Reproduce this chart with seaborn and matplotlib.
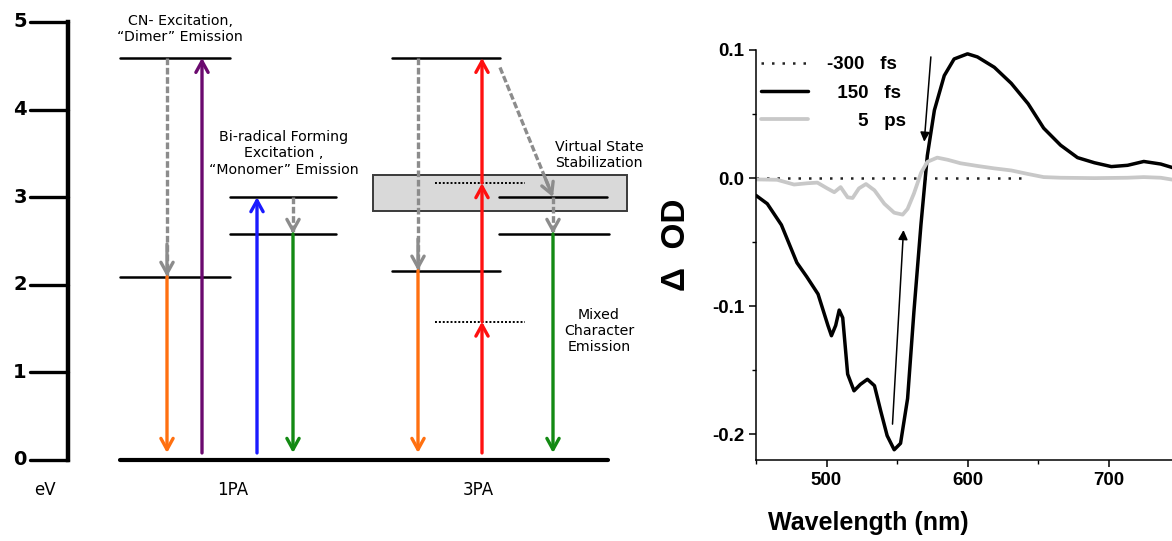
import matplotlib
matplotlib.use("Agg")
import matplotlib.pyplot as plt
import seaborn as sns

# -------------------------------
# Données : diagramme d'énergie (eV)
# -------------------------------
eV_ticks = [0, 1, 2, 3, 4, 5]
lvl_cn_high = 4.59      # CN- état excité (1PA et 3PA)
lvl_dimer = 2.09        # émission "dimère" 1PA
lvl_dimer_3pa = 2.16    # émission 3PA (orange)
lvl_mono_high = 3.0     # bi-radical
lvl_mono_low = 2.58     # émission "monomère"
virt_1 = 1.58           # états virtuels 3PA
virt_2 = 3.16
box_top = 3.25          # zone de stabilisation
box_bottom = 2.84
arrow_floor = 0.08

# -------------------------------
# Données : spectres d'absorption transitoire
# -------------------------------
wl_150fs = [450, 458, 468, 479, 486, 494, 501, 503.5, 506.5, 509, 511.5, 515, 519.5,
            524, 529, 534, 538.5, 543, 548, 552.5, 557.5, 562, 567, 571.5, 576.5,
            583.5, 590.5, 600, 607, 619, 631, 643, 654, 666, 678, 690, 702, 713.5,
            725, 737, 746]
od_150fs = [-0.0135, -0.020, -0.0365, -0.066, -0.077, -0.0905, -0.115, -0.123, -0.115,
            -0.103, -0.109, -0.153, -0.166, -0.161, -0.157, -0.162, -0.182, -0.201,
            -0.212, -0.207, -0.172, -0.104, -0.036, 0.0176, 0.053, 0.080, 0.093, 0.097,
            0.0946, 0.0865, 0.074, 0.058, 0.039, 0.0257, 0.016, 0.012, 0.009, 0.010,
            0.013, 0.011, 0.008]

wl_5ps = [450, 465, 477, 486.5, 493.5, 500.5, 505.5, 510, 515, 518.5, 523, 528, 534,
          541, 548, 554, 557.5, 562, 567, 571.5, 578.5, 586, 595, 607, 619, 631, 643,
          654, 666, 690, 713.5, 725, 737, 746]
od_5ps = [-0.001, -0.0013, -0.005, -0.004, -0.0035, -0.008, -0.011, -0.007, -0.015,
          -0.0155, -0.008, -0.0046, -0.0095, -0.020, -0.027, -0.0285, -0.024, -0.012,
          0.004, 0.0127, 0.016, 0.0143, 0.0116, 0.0095, 0.0076, 0.006, 0.0032, 0.0008,
          0.0003, 0.0, 0.0003, 0.0008, 0.0003, -0.0013]

wl_m300fs = [450, 500, 550, 600, 640]
od_m300fs = [0, 0, 0, 0, 0]

legend_labels = ["-300   fs", "\u2007150   fs", "\u2007\u2007\u20075   ps"]

# -------------------------------
# Style
# -------------------------------
sns.set_style("ticks")
plt.rcParams['font.family'] = ['Liberation Sans', 'DejaVu Sans']
plt.rcParams['axes.unicode_minus'] = False
plt.rcParams['text.color'] = 'black'
plt.rcParams['axes.labelcolor'] = 'black'
plt.rcParams['xtick.color'] = 'black'
plt.rcParams['ytick.color'] = 'black'
plt.rcParams['axes.edgecolor'] = 'black'

fig = plt.figure(figsize=(11.72, 5.41), dpi=100)

# -------------------------------
# Panneau gauche : diagramme d'énergie
# -------------------------------
axL = fig.add_axes([0, 0, 660 / 1172, 1])
axL.set_xlim(0, 660)
axL.set_ylim(-0.925, 5.25)
axL.axis('off')

DJ = 'DejaVu Sans'
GREY = '#8c8c8c'

axL.plot([68, 68], [eV_ticks[0], eV_ticks[-1]], color='k', lw=3.2, solid_capstyle='projecting')
for v in eV_ticks:
    axL.plot([30, 68], [v, v], color='k', lw=2.4)
    axL.text(20, v, str(v), ha='center', va='center', fontsize=14, fontweight='bold', family=DJ)
axL.text(45, -0.34, "eV", ha='center', va='center', fontsize=12, family=DJ)
axL.text(233, -0.34, "1PA", ha='center', va='center', fontsize=12, family=DJ)
axL.text(478, -0.34, "3PA", ha='center', va='center', fontsize=12, family=DJ)

# box de stabilisation
axL.add_patch(plt.Rectangle((373, box_bottom), 627 - 373, box_top - box_bottom,
                            facecolor='#d9d9d9', edgecolor='#3a3a3a', lw=1.4, zorder=1))

# niveaux
axL.plot([120, 608], [0, 0], color='k', lw=3)
level_segments = [
    (120, 230, lvl_cn_high), (120, 230, lvl_dimer),
    (230, 336, lvl_mono_high), (230, 336, lvl_mono_low),
    (392, 500, lvl_cn_high), (392, 500, lvl_dimer_3pa),
    (499, 607, lvl_mono_high), (499, 609, lvl_mono_low),
]
for x0, x1, y in level_segments:
    axL.plot([x0, x1], [y, y], color='k', lw=1.8, zorder=2)
for y in [virt_2, virt_1]:
    axL.plot([435, 525], [y, y], color='k', lw=1.4, ls=(0, (1, 1)), zorder=2)

HEAD = '->,head_length=0.4,head_width=0.22'


def arrow(x0, y0, x1, y1, color):
    axL.annotate('', xy=(x1, y1), xytext=(x0, y0), zorder=3,
                 arrowprops=dict(arrowstyle=HEAD, color=color, lw=2.4, mutation_scale=20,
                                 shrinkA=0, shrinkB=0))


def dashed_arrow(x0, y0, x1, y1):
    axL.plot([x0, x1], [y0, y1], color=GREY, lw=2.4, ls=(0, (2.0, 0.8)), zorder=3)
    xs = x0 + 0.85 * (x1 - x0)
    ys = y0 + 0.85 * (y1 - y0)
    axL.annotate('', xy=(x1, y1), xytext=(xs, ys), zorder=3,
                 arrowprops=dict(arrowstyle=HEAD, color=GREY, lw=2.4, mutation_scale=20,
                                 shrinkA=0, shrinkB=0))


# 1PA
dashed_arrow(167, lvl_cn_high, 167, lvl_dimer)
arrow(167, lvl_dimer, 167, arrow_floor, '#ff7010')
arrow(202, arrow_floor, 202, lvl_cn_high, '#6b0a6f')
arrow(257, arrow_floor, 257, lvl_mono_high, '#1a1aff')
dashed_arrow(293, lvl_mono_high, 293, lvl_mono_low)
arrow(293, lvl_mono_low, 293, arrow_floor, '#138a13')

# 3PA
dashed_arrow(418, lvl_cn_high, 418, lvl_dimer_3pa)
arrow(418, lvl_dimer_3pa, 418, arrow_floor, '#ff7010')
arrow(482, arrow_floor, 482, virt_1, '#ff1010')
arrow(482, virt_1, 482, virt_2, '#ff1010')
arrow(482, virt_2, 482, lvl_cn_high, '#ff1010')
dashed_arrow(500, 4.48, 553, lvl_mono_high)
dashed_arrow(553, lvl_mono_high, 553, lvl_mono_low)
arrow(553, lvl_mono_low, 553, arrow_floor, '#138a13')

txt_kw = dict(ha='center', va='center', fontsize=10.2, family=DJ, linespacing=1.2)
axL.text(180, 4.92, "CN- Excitation,\n\u201cDimer\u201d Emission", **txt_kw)
axL.text(284, 3.50, "Bi-radical Forming\nExcitation ,\n\u201cMonomer\u201d Emission", **txt_kw)
axL.text(599, 3.48, "Virtual State\nStabilization", **txt_kw)
axL.text(599, 1.47, "Mixed\nCharacter\nEmission", **txt_kw)

# -------------------------------
# Panneau droit : spectres
# -------------------------------
axR = fig.add_axes([756 / 1172, 1 - 460 / 541, 416 / 1172, 410 / 541])

sns.lineplot(x=wl_m300fs, y=od_m300fs, ax=axR, color='#222222', lw=1.8,
             linestyle=(0, (1, 3.2)), label=legend_labels[0])
sns.lineplot(x=wl_150fs, y=od_150fs, ax=axR, color='black', lw=2.5, label=legend_labels[1],
             solid_joinstyle='round')
sns.lineplot(x=wl_5ps, y=od_5ps, ax=axR, color='#c8c8c8', lw=2.7, label=legend_labels[2],
             solid_joinstyle='round')

axR.annotate('', xy=(569.3, 0.0284), xytext=(574, 0.0946),
             arrowprops=dict(arrowstyle='-|>', color='k', lw=1.1, mutation_scale=14, shrinkA=0, shrinkB=0))
axR.annotate('', xy=(554.6, -0.0405), xytext=(546.8, -0.192),
             arrowprops=dict(arrowstyle='-|>', color='k', lw=1.1, mutation_scale=14, shrinkA=0, shrinkB=0))

axR.set_xlim(450, 745)
axR.set_ylim(-0.22, 0.1)
axR.set_xticks([500, 600, 700])
axR.set_xticks([450, 550, 650], minor=True)
axR.set_yticks([-0.2, -0.1, 0.0, 0.1])
axR.set_yticks([-0.15, -0.05, 0.05], minor=True)
axR.set_yticklabels(["-0.2", "-0.1", "0.0", "0.1"])
axR.tick_params(which='major', direction='out', length=5, width=1.1, labelsize=13.5)
axR.tick_params(which='minor', direction='out', length=3, width=1.0)
for lab in axR.get_xticklabels() + axR.get_yticklabels():
    lab.set_fontweight('bold')
for s in ['top', 'right']:
    axR.spines[s].set_visible(False)
for s in ['left', 'bottom']:
    axR.spines[s].set_linewidth(1.1)

axR.set_xlabel("Wavelength (nm)", fontsize=18, fontweight='bold')
axR.xaxis.set_label_coords(0.269, -0.124)
axR.set_ylabel("\u0394  OD", fontsize=24, fontweight='bold', va='center')
axR.yaxis.set_label_coords(-0.192, 0.525)

leg = axR.legend(loc='upper left', bbox_to_anchor=(0.012, 0.985), frameon=False,
                 handlelength=2.5, handletextpad=1.0, labelspacing=0.6,
                 borderpad=0, borderaxespad=0, prop={'weight': 'bold', 'size': 13.5})

fig.savefig("out.png", dpi=100)
